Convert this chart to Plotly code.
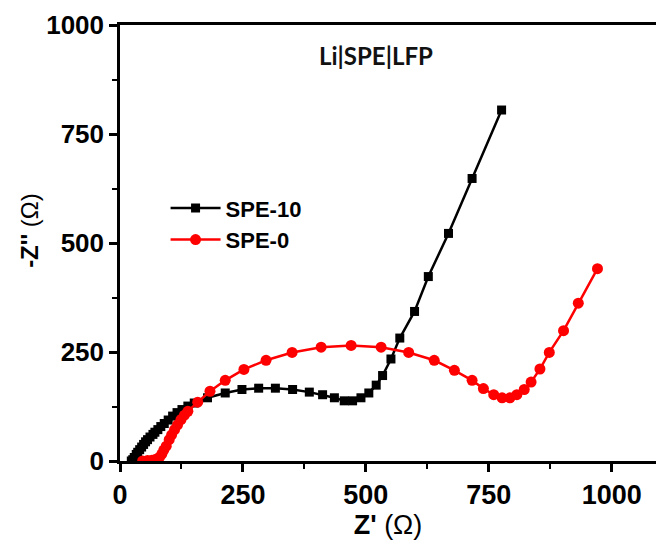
import plotly.graph_objects as go

# Nyquist data, Li|SPE|LFP cells
spe10_zre = [23, 26, 29, 33, 36, 40, 44, 48, 52, 56, 61, 67, 71, 77, 83, 90, 98, 107, 116, 126,
             138, 151, 178, 214, 248, 282, 316, 351, 385, 412, 436, 456, 473, 490, 506, 521,
             534, 551, 569, 599, 627, 668, 716, 776]
spe10_zim = [0, 3, 8, 15, 20, 26, 32, 38, 44, 49, 55, 61, 66, 72, 79, 86, 94, 103, 111, 118,
             126, 133, 145, 156, 164, 167, 167, 164, 158, 152, 145, 138, 138, 145, 156, 174,
             196, 234, 282, 343, 423, 522, 648, 805]

spe0_zre = [46, 56, 65, 73, 80, 85, 89, 94, 100, 105, 111, 117, 124, 131, 138, 158, 183, 214,
            252, 297, 350, 409, 470, 531, 587, 639, 680, 716, 739, 760, 777, 793, 807, 822,
            836, 854, 873, 902, 932, 971]
spe0_zim = [0, 1, 2, 4, 8, 16, 25, 34, 49, 60, 72, 83, 95, 105, 114, 135, 160, 185,
            210, 231, 249, 261, 265, 261, 249, 231, 208, 185, 166, 152, 145, 145, 152, 164,
            181, 211, 249, 299, 362, 441]

x_ticks = [0, 250, 500, 750, 1000]
y_ticks = [0, 250, 500, 750, 1000]

FONT = "Liberation Sans"

fig = go.Figure()
fig.add_trace(go.Scatter(
    x=spe10_zre, y=spe10_zim, mode="lines+markers", name="SPE-10",
    line=dict(color="black", width=2.5),
    marker=dict(symbol="square", size=9, color="black"),
))
fig.add_trace(go.Scatter(
    x=spe0_zre, y=spe0_zim, mode="lines+markers", name="SPE-0",
    line=dict(color="#ff0000", width=2.5),
    marker=dict(symbol="circle", size=11, color="#ff0000"),
))

axis_common = dict(
    showgrid=False, zeroline=False,
    showline=True, linecolor="black", linewidth=2.5,
    ticks="outside", ticklen=8, tickwidth=2.5, tickcolor="black",
    minor=dict(ticks="outside", ticklen=5, tickwidth=2, tickcolor="black", dtick=125),
)

fig.update_layout(
    width=656, height=545,
    margin=dict(l=120, r=0, t=25, b=84),
    paper_bgcolor="white", plot_bgcolor="white",
    font=dict(family=FONT, color="black"),
    xaxis=dict(
        range=[0, 1090], tickvals=x_ticks, mirror=True,
        tickfont=dict(size=27, family=FONT, weight="bold"),
        title=dict(text="<b>Z'</b> (Ω)", font=dict(size=27, family=FONT), standoff=2),
        **axis_common,
    ),
    yaxis=dict(
        range=[0, 1000], tickvals=y_ticks,
        tickfont=dict(size=26, family=FONT, weight="bold"),
        **axis_common,
    ),
    legend=dict(
        x=0.085, y=0.628, xanchor="left", yanchor="top",
        bgcolor="rgba(0,0,0,0)", borderwidth=0,
        font=dict(size=22, family=FONT, weight="bold"),
        itemwidth=50, tracegroupgap=0,
    ),
    annotations=[
        dict(
            text="<b>Li|SPE|LFP</b>", x=0.478, y=0.931, xref="paper", yref="paper",
            xanchor="center", yanchor="middle", showarrow=False,
            font=dict(size=24, family="Lato", color="#111111"),
        ),
        # y-axis title
        dict(
            text="<b>-Z''</b> (Ω)", x=-0.168, y=0.53, xref="paper", yref="paper",
            xanchor="center", yanchor="middle", showarrow=False, textangle=-90,
            font=dict(size=24, family=FONT, color="black"),
        ),
    ],
)

fig.write_html("out.html")
